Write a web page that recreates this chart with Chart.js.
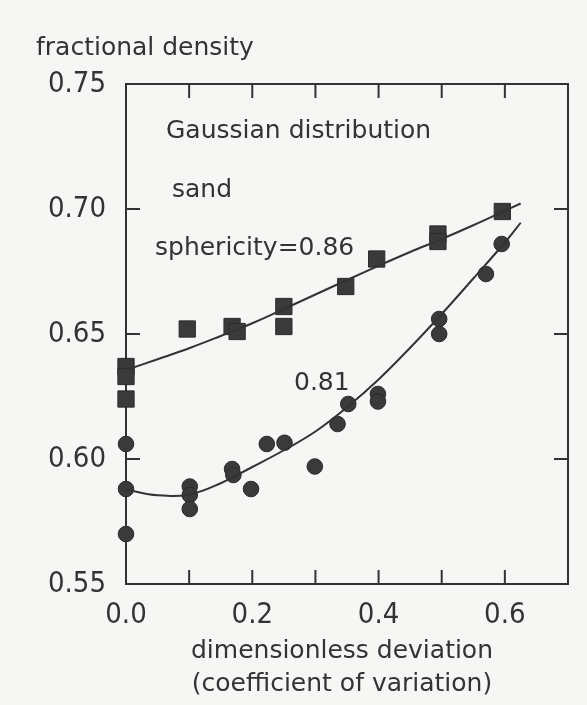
<!DOCTYPE html>
<html>
<head>
<meta charset="utf-8">
<script src="https://cdn.jsdelivr.net/npm/chart.js@4.4.1/dist/chart.umd.min.js"></script>
<style>
  html, body { margin: 0; padding: 0; background: #f6f6f5; }
  #wrap { width: 587px; height: 705px; }
</style>
</head>
<body>
<div id="wrap"><canvas id="densityChart" width="587" height="705"></canvas></div>
<script>
// measured points, sphericity 0.86 (squares)
const sq86X = [0, 0, 0, 0.097, 0.168, 0.176, 0.25, 0.25, 0.348, 0.397, 0.494, 0.494, 0.596];
const sq86Y = [0.637, 0.633, 0.624, 0.652, 0.653, 0.651, 0.661, 0.653, 0.669, 0.680, 0.690, 0.687, 0.699];

// measured points, sphericity 0.81 (circles)
const ci81X = [0, 0, 0, 0.101, 0.101, 0.101, 0.168, 0.170, 0.198, 0.223, 0.251, 0.299, 0.335, 0.352, 0.399, 0.399, 0.496, 0.496, 0.570, 0.595];
const ci81Y = [0.606, 0.588, 0.570, 0.589, 0.5856, 0.580, 0.596, 0.5936, 0.588, 0.606, 0.6065, 0.597, 0.614, 0.622, 0.626, 0.623, 0.656, 0.650, 0.674, 0.686];

// fitted curves
const fitX   = [0, 0.05, 0.1, 0.15, 0.2, 0.25, 0.3, 0.35, 0.4, 0.45, 0.5, 0.55, 0.6, 0.625];
const fit86Y = [0.6356, 0.6399, 0.6443, 0.6492, 0.6543, 0.660, 0.6658, 0.6716, 0.6773, 0.6828, 0.688, 0.6935, 0.6993, 0.7022];
const fit81Y = [0.5878, 0.5855, 0.5858, 0.5903, 0.5968, 0.6035, 0.611, 0.6207, 0.6318, 0.6445, 0.658, 0.6722, 0.6866, 0.6945];

// axis ticks
const xTickVals = [0.1, 0.2, 0.3, 0.4, 0.5, 0.6];
const yTickVals = [0.60, 0.65, 0.70];

const ink = '#333333';
const tickFont = "'Liberation Sans Narrow', 'DejaVu Sans Condensed', 'DejaVu Sans', sans-serif";
const textFont = "'DejaVu Sans', sans-serif";

const pts = (xs, ys) => xs.map((x, i) => ({ x: x, y: ys[i] }));

// frame, inward ticks and the labels inside / around the plot
const framePlugin = {
    id: 'frame',
    beforeDatasetsDraw(chart) {
        const { ctx, chartArea: a, scales } = chart;
        ctx.save();
        ctx.strokeStyle = ink;
        ctx.lineWidth = 2;
        ctx.strokeRect(a.left, a.top, a.right - a.left, a.bottom - a.top);
        const len = 14;
        ctx.beginPath();
        xTickVals.forEach(v => {
            const px = scales.x.getPixelForValue(v);
            ctx.moveTo(px, a.bottom); ctx.lineTo(px, a.bottom - len);
            ctx.moveTo(px, a.top); ctx.lineTo(px, a.top + len);
        });
        yTickVals.forEach(v => {
            const py = scales.y.getPixelForValue(v);
            ctx.moveTo(a.left, py); ctx.lineTo(a.left + len, py);
            ctx.moveTo(a.right, py); ctx.lineTo(a.right - len, py);
        });
        ctx.stroke();

        ctx.fillStyle = ink;
        ctx.textBaseline = 'alphabetic';
        ctx.textAlign = 'left';
        ctx.font = '25px ' + textFont;
        ctx.fillText('fractional density', 36, 55);
        ctx.fillText('Gaussian distribution', 166, 138);
        ctx.fillText('sand', 172, 197);
        ctx.fillText('sphericity=0.86', 155, 255);
        ctx.fillText('0.81', 294, 390);
        ctx.textAlign = 'center';
        ctx.fillText('dimensionless deviation', 342, 658);
        ctx.fillText('(coefficient of variation)', 342, 691);
        ctx.restore();
    }
};

new Chart(document.getElementById('densityChart').getContext('2d'), {
    type: 'scatter',
    data: {
        datasets: [
            {
                type: 'line',
                data: pts(fitX, fit86Y),
                borderColor: ink,
                borderWidth: 2,
                pointRadius: 0,
                tension: 0.4,
                clip: false,
                fill: false
            },
            {
                type: 'line',
                data: pts(fitX, fit81Y),
                borderColor: ink,
                borderWidth: 2,
                pointRadius: 0,
                tension: 0.4,
                clip: false,
                fill: false
            },
            {
                label: 'sphericity=0.86',
                data: pts(sq86X, sq86Y),
                pointStyle: 'rect',
                pointRadius: 11.5,
                backgroundColor: '#3a3a3a',
                borderColor: '#2a2a2a',
                borderWidth: 1,
                clip: false
            },
            {
                label: '0.81',
                data: pts(ci81X, ci81Y),
                pointStyle: 'circle',
                pointRadius: 7.8,
                backgroundColor: '#3a3a3a',
                borderColor: '#2a2a2a',
                borderWidth: 1,
                clip: false
            }
        ]
    },
    options: {
        responsive: false,
        devicePixelRatio: 1,
        animation: false,
        layout: { padding: { top: 84, right: 19, left: 0, bottom: 0 } },
        plugins: {
            legend: { display: false },
            tooltip: { enabled: false }
        },
        scales: {
            x: {
                type: 'linear',
                min: 0,
                max: 0.7,
                afterFit: s => { s.height = 121; },
                grid: { display: false, drawTicks: false },
                border: { display: false },
                ticks: {
                    stepSize: 0.1,
                    padding: 14,
                    color: ink,
                    font: { family: tickFont, size: 29 },
                    maxRotation: 0,
                    autoSkip: false,
                    callback: v => (Math.round(v * 10) % 2 === 0 ? v.toFixed(1) : '')
                }
            },
            y: {
                min: 0.55,
                max: 0.75,
                afterFit: s => { s.width = 126; },
                grid: { display: false, drawTicks: false },
                border: { display: false },
                ticks: {
                    stepSize: 0.05,
                    padding: 20,
                    color: ink,
                    font: { family: tickFont, size: 29 },
                    callback: v => v.toFixed(2)
                }
            }
        }
    },
    plugins: [framePlugin]
});
</script>
</body>
</html>
